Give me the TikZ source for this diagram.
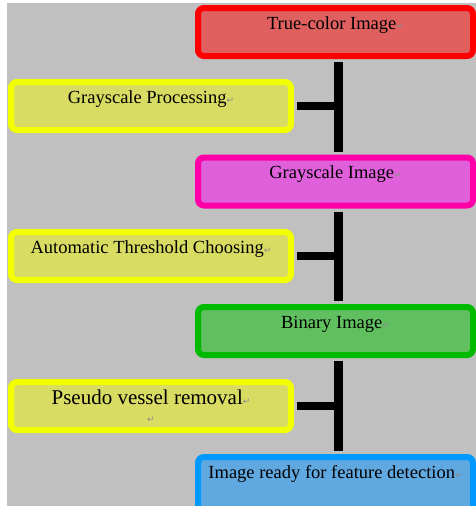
\documentclass[tikz,border=0pt]{standalone}
\usepackage{fontspec}
\setmainfont{Liberation Serif}
\newfontfamily\symfont{DejaVu Sans}
\usepackage{tikz}
\definecolor{bggray}{HTML}{C0C0C0}
\definecolor{redline}{HTML}{FF0000}
\definecolor{redfill}{HTML}{E06060}
\definecolor{yelline}{HTML}{F2FF00}
\definecolor{yelfill}{HTML}{D9DC62}
\definecolor{magline}{HTML}{FF00A8}
\definecolor{magfill}{HTML}{E060DC}
\definecolor{grnline}{HTML}{00BA00}
\definecolor{grnfill}{HTML}{60C060}
\definecolor{bluline}{HTML}{0099FF}
\definecolor{blufill}{HTML}{60A8E0}
\newcommand{\retmark}{{\symfont\fontsize{9}{9}\selectfont\color{black!45}\char"21B5}}

\begin{document}
\begin{tikzpicture}[x=1pt,y=-1pt,
  block/.style={draw,rounded corners=6pt,line width=6pt,minimum height=48pt,inner sep=0pt,
    font=\fontsize{18.5}{22}\selectfont},
  mainbox/.style={block,minimum width=275pt,text height=13pt,text depth=19pt},
  sidebox/.style={block,minimum width=280pt,text height=13pt,text depth=19pt,draw=yelline,fill=yelfill},
  trunk/.style={line width=8.5pt,shorten <=3pt,shorten >=3pt},
  branch/.style={line width=8pt,shorten <=3pt}]
  \useasboundingbox (0,0) rectangle (476,506);
  \fill[bggray] (7,3) rectangle (476,506);
  \node[mainbox,draw=redline,fill=redfill] (truecolor) at (335.5,32) {True-color Image\retmark};
  \node[sidebox] (grayproc) at (151,106) {Grayscale Processing\retmark};
  \node[mainbox,draw=magline,fill=magfill] (grayimg) at (335.5,181.5) {Grayscale Image\retmark};
  \node[sidebox] (threshold) at (151,256) {Automatic Threshold Choosing\retmark};
  \node[mainbox,draw=grnline,fill=grnfill] (binary) at (335.5,331) {Binary Image\retmark};
  \node[block,minimum width=280pt,align=center,font=\fontsize{21}{18}\selectfont,draw=yelline,fill=yelfill]
    (pseudo) at (151,406) {Pseudo vessel removal\retmark\\\retmark};
  \node[mainbox,minimum height=56pt,text depth=27pt,draw=bluline,fill=blufill] (ready) at (335.5,485)
    {Image ready for feature detection\retmark};
  \draw[trunk] ([xshift=3pt]truecolor.south) -- ([xshift=3pt]grayimg.north);
  \draw[trunk] ([xshift=3pt]grayimg.south) -- ([xshift=3pt]binary.north);
  \draw[trunk] ([xshift=3pt]binary.south) -- ([xshift=3pt]ready.north);
  \draw[branch] (grayproc.east) -- (grayproc.east -| truecolor.south);
  \draw[branch] (threshold.east) -- (threshold.east -| grayimg.south);
  \draw[branch] (pseudo.east) -- (pseudo.east -| binary.south);
\end{tikzpicture}
\end{document}
